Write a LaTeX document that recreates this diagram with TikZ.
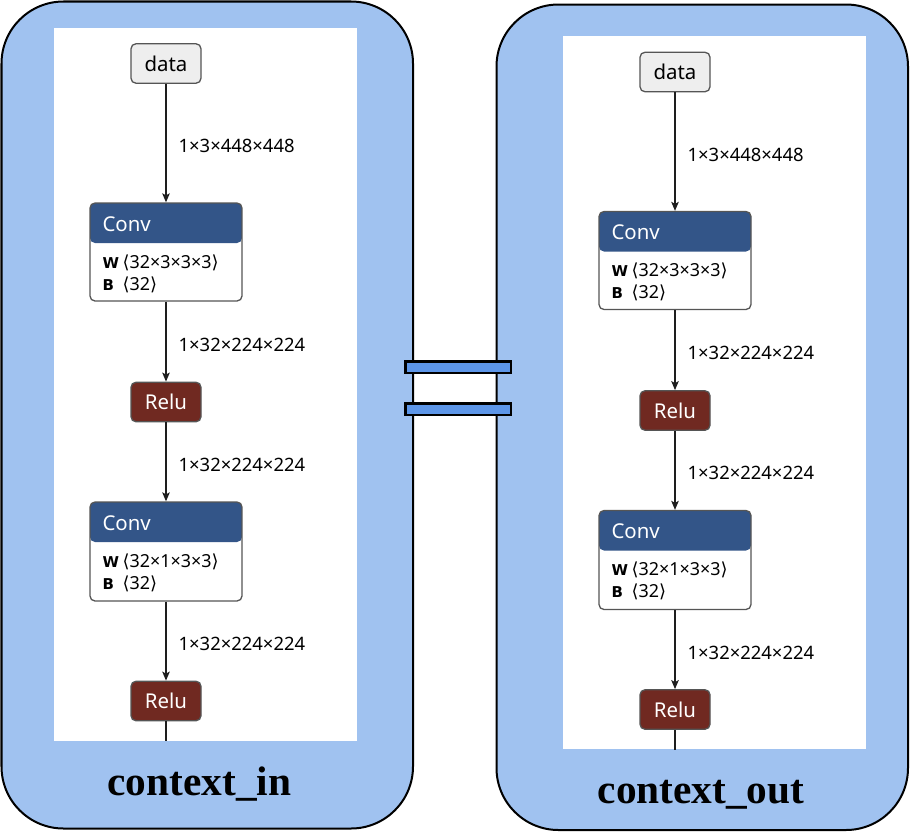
\documentclass[tikz,border=0pt]{standalone}
\usepackage{fontspec}
\setmainfont{Liberation Serif}
\newfontfamily\nsans{Noto Sans}
\newfontfamily\djv{DejaVu Sans}
\usetikzlibrary{arrows.meta,calc}
\definecolor{outerblue}{RGB}{160,194,240}
\definecolor{barblue}{RGB}{93,150,232}
\definecolor{convblue}{RGB}{51,85,136}
\definecolor{relured}{RGB}{112,41,33}
\definecolor{datagray}{RGB}{238,238,238}
\definecolor{nodeborder}{RGB}{85,85,85}
\definecolor{edgecol}{RGB}{30,30,30}
\tikzset{
  panel/.style={draw=black, line width=2bp, fill=outerblue, rounded corners=62bp},
  sheet/.style={fill=white, draw=none},
  bar/.style={draw=black, line width=2.5bp, fill=barblue},
  opbox/.style={draw=nodeborder, line width=1.3bp, rounded corners=5bp, inner sep=0pt,
    minimum width=70bp, minimum height=39.5bp, font=\nsans\fontsize{20.5}{23}\selectfont},
  databox/.style={opbox, fill=datagray, text=black},
  relubox/.style={opbox, fill=relured, text=white},
  convbox/.style={draw=nodeborder, line width=1.3bp, rounded corners=5bp, inner sep=0pt,
    minimum width=152bp, minimum height=98bp, fill=white,
    path picture={\fill[convblue] (path picture bounding box.north west) rectangle
      ([yshift=-40bp]path picture bounding box.north east);}},
  convhead/.style={inner sep=0pt, text=white, font=\nsans\fontsize{20.5}{23}\selectfont},
  attrname/.style={inner sep=0pt, text=black, font=\djv\bfseries\fontsize{15}{18}\selectfont},
  attrval/.style={inner sep=0pt, text=black, font=\nsans\fontsize{18}{20}\selectfont},
  edge/.style={draw=edgecol, line width=1.3bp, -{Stealth[length=9bp,width=7.5bp,inset=2bp]}},
  plainedge/.style={draw=edgecol, line width=1.3bp},
  elabel/.style={midway, anchor=west, xshift=12bp, yshift=-3bp, inner sep=0pt, text=black,
    font=\nsans\fontsize{18.5}{21}\selectfont},
  title/.style={anchor=base, inner sep=0pt, font=\bfseries\fontsize{41.5}{48}\selectfont}
}
\newcommand\convtext[3]{% #1 node, #2 W value, #3 name prefix
  \node[convhead, anchor=base west] (#3h) at ($(#1.north west)+(13,29)$) {Conv};
  \node[attrname, anchor=base west] (#3wn) at ($(#1.north west)+(13,66)$) {W};
  \node[attrval, anchor=base west] (#3wv) at ($(#1.north west)+(33,66)$) {{\djv ⟨}#2{\djv ⟩}};
  \node[attrname, anchor=base west] (#3bn) at ($(#1.north west)+(13,88)$) {B};
  \node[attrval, anchor=base west] (#3bv) at ($(#1.north west)+(33,88)$) {{\djv ⟨}32{\djv ⟩}};
}
\newcommand\netcol[2]{% #1 prefix, #2 shift
  \begin{scope}[shift={#2}]
    \node[databox] (#1d) at (166,63.5) {data};
    \node[convbox] (#1c1) at (166,252) {};
    \node[relubox] (#1r1) at (166,402) {Relu};
    \node[convbox, minimum height=99bp] (#1c2) at (166,551.5) {};
    \node[relubox] (#1r2) at (166,701) {Relu};
    \coordinate (#1end) at (166,741);
    \convtext{#1c1}{32×3×3×3}{#1ca}
    \convtext{#1c2}{32×1×3×3}{#1cb}
    \draw[edge] (#1d) -- (#1c1) node[elabel] (#1e1) {1×3×448×448};
    \draw[edge] (#1c1) -- (#1r1) node[elabel] (#1e2) {1×32×224×224};
    \draw[edge] (#1r1) -- (#1c2) node[elabel] (#1e3) {1×32×224×224};
    \draw[edge] (#1c2) -- (#1r2) node[elabel] (#1e4) {1×32×224×224};
    \draw[plainedge] (#1r2) -- (#1end);
  \end{scope}
}
\begin{document}
\begin{tikzpicture}[x=1bp, y=-1bp]
  \useasboundingbox (0,0) rectangle (910,834);
  \fill[white] (0,0) rectangle (910,834);
  % panels
  \draw[panel] (1.5,1.5) rectangle (413,828.5);
  \draw[panel] (496.5,4.5) rectangle (908,830);
  \fill[sheet] (54,28) rectangle (357,741);
  \fill[sheet] (563,36) rectangle (866,748.5);
  % equals bars
  \draw[bar] (405.5,361.5) rectangle (511,373);
  \draw[bar] (405.5,403.5) rectangle (511,415);
  % graphs
  \netcol{L}{(0,0)}
  \netcol{R}{(509,8.5)}
  % titles
  \node[title] (tin) at (199.5,795) {context\_in};
  \node[title] (tout) at (701,803) {context\_out};
\end{tikzpicture}
\end{document}
